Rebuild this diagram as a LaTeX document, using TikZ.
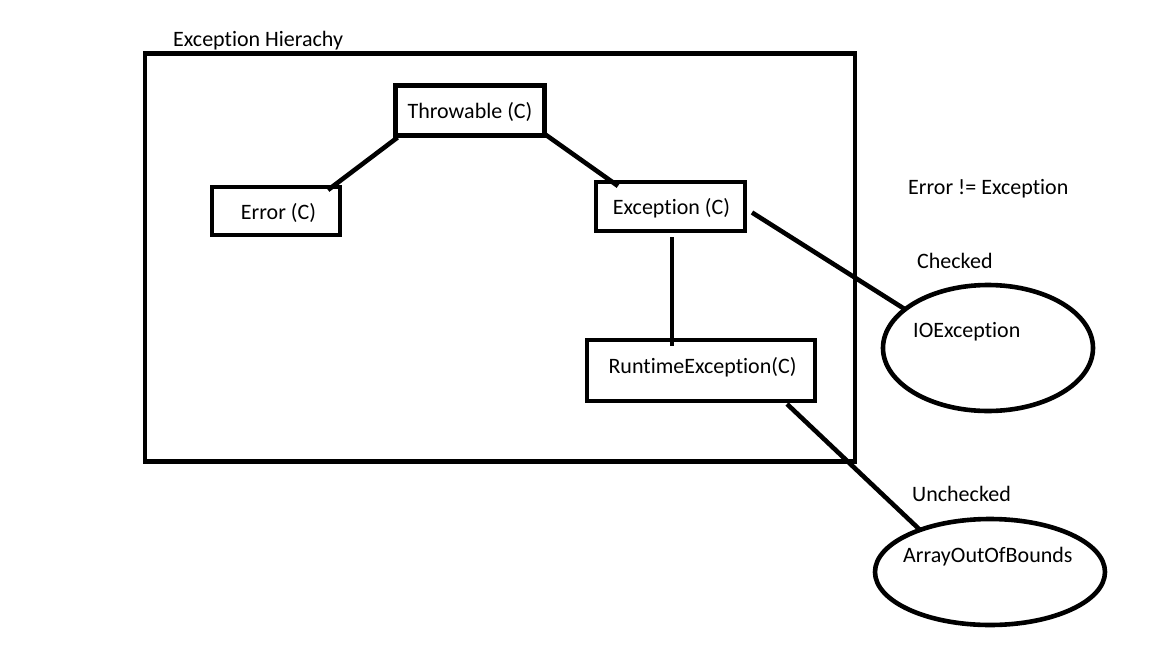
\documentclass[tikz,border=0pt]{standalone}
\usepackage{fontspec}
\setmainfont{Carlito}[Ligatures=NoCommon]
\usetikzlibrary{shapes.geometric}
\begin{document}
\begin{tikzpicture}[x=1pt,y=-1pt,
  every node/.style={font=\fontsize{22}{26}\selectfont, text=black},
  box/.style={draw, line width=4.6pt, rectangle, inner sep=0pt, outer sep=0pt, text height=16pt, text depth=0pt},
  oval/.style={draw, line width=4.6pt, ellipse, inner sep=0pt, outer sep=0pt},
  lbl/.style={anchor=base west, inner sep=0pt},
  link/.style={line width=4.6pt}
]
\useasboundingbox[fill=white] (0,0) rectangle (1152,648);

% outer frame
\node[box, minimum width=710pt, minimum height=408pt] (frame) at (500,257.75) {};
\node[lbl] (title) at (173,46) {Exception Hierachy};

% class boxes
\node[box, minimum width=149pt, minimum height=50pt] (thr) at (470,110.5) {Throwable (C)};
\node[box, minimum width=128pt, minimum height=48pt] (err) at (276,211) {\hspace*{5pt}Error (C)};
\node[box, minimum width=149pt, minimum height=49pt] (exc) at (670.5,206.5) {\hspace*{2pt}Exception (C)};
\node[box, minimum width=228pt, minimum height=61pt, text depth=10pt] (run) at (701,370.5) {\hspace*{3pt}RuntimeException(C)};

% ellipses
\node[oval, minimum width=210pt, minimum height=126pt] (io) at (988,348) {};
\node[oval, minimum width=230pt, minimum height=106pt] (arr) at (990,572) {};

% free texts
\node[lbl] (neq) at (908,194) {Error != Exception};
\node[lbl] (chk) at (917,268) {Checked};
\node[lbl] (iotxt) at (913,337) {IOException};
\node[lbl] (unchk) at (912,501) {Unchecked};
\node[lbl] (arrtxt) at (903,562) {ArrayOutOfBounds};

% connectors
\draw[link] ([xshift=2pt,yshift=-2pt]thr.south west) -- ([xshift=-12pt,yshift=-3pt]err.north east);
\draw[link] ([xshift=-2pt,yshift=3pt]thr.south east) -- ([xshift=22pt,yshift=-4pt]exc.north west);
\draw[link] ([xshift=1.5pt,yshift=-6pt]exc.south) -- ([xshift=1.5pt,yshift=-6pt]exc.south |- run.north);
\draw[link] ([xshift=7pt,yshift=-6pt]exc.east) -- (io.155);
\draw[link] ([xshift=-28pt,yshift=-3pt]run.south east) -- (arr.149);
\end{tikzpicture}
\end{document}
